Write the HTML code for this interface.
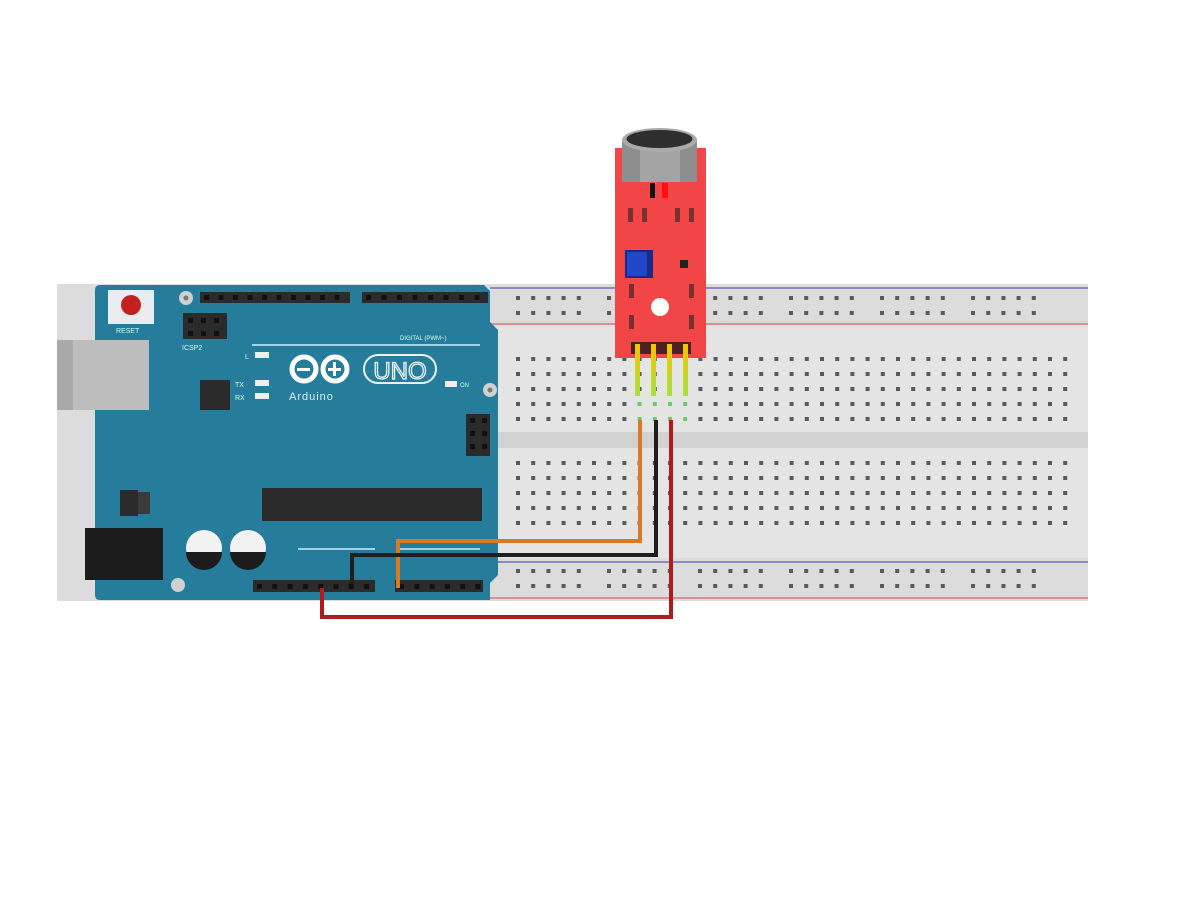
<!DOCTYPE html>
<html><head><meta charset="utf-8"><style>
html,body{margin:0;padding:0;background:#fff;width:1200px;height:900px;overflow:hidden}
svg{display:block}
text{font-family:"Liberation Sans",sans-serif}
</style></head><body>
<svg id="s" width="1200" height="900" viewBox="0 0 1200 900" xmlns="http://www.w3.org/2000/svg">
<!-- breadboard -->
<rect x="57" y="284" width="1031" height="317" fill="#dcdcdc"/>
<rect x="490" y="326" width="598" height="232" fill="#e4e4e4"/>
<rect x="490" y="432" width="598" height="16" fill="#d2d2d2"/>
<line x1="490" y1="288" x2="1088" y2="288" stroke="#8a8ac8" stroke-width="2"/>
<line x1="490" y1="324" x2="1088" y2="324" stroke="#d89090" stroke-width="2"/>
<line x1="490" y1="562" x2="1088" y2="562" stroke="#8a8ac8" stroke-width="2"/>
<line x1="490" y1="598" x2="1088" y2="598" stroke="#d89090" stroke-width="2"/>
<g id="holes" fill="#5a5a5a"></g>
<!-- arduino -->
<path d="M100 285 H484 L490 291 V322 L498 330 V575 L490 583 V600 H100 Q95 600 95 595 V290 Q95 285 100 285Z" fill="#257d9b"/>
<rect x="57" y="340" width="92" height="70" fill="#bdbdbd"/>
<rect x="57" y="340" width="16" height="70" fill="#a9a9a9"/>
<rect x="85" y="528" width="78" height="52" fill="#1c1c1c"/>
<rect x="108" y="290" width="46" height="34" fill="#e8ecef"/>
<circle cx="131" cy="305" r="10" fill="#c42020"/>
<text x="116" y="333" font-size="7" fill="#cfe">RESET</text>
<circle cx="186" cy="298" r="7" fill="#d0d0d0"/><circle cx="186" cy="298" r="2.5" fill="#777"/>
<circle cx="490" cy="390" r="7" fill="#d0d0d0"/><circle cx="490" cy="390" r="2.5" fill="#777"/>
<circle cx="178" cy="585" r="7" fill="#d0d0d0"/>
<rect x="200" y="292" width="150" height="11" fill="#2b2b2b"/>
<rect x="362" y="292" width="126" height="11" fill="#2b2b2b"/>
<rect x="183" y="313" width="44" height="26" fill="#2b2b2b"/>
<text x="182" y="350" font-size="7" fill="#cfe">ICSP2</text>
<text x="400" y="340" font-size="6" fill="#cfe">DIGITAL (PWM~)</text>
<line x1="252" y1="345" x2="480" y2="345" stroke="#9fd4e6" stroke-width="2"/>
<rect x="255" y="352" width="14" height="6" fill="#eee"/>
<rect x="255" y="380" width="14" height="6" fill="#eee"/>
<rect x="255" y="393" width="14" height="6" fill="#eee"/>
<text x="245" y="359" font-size="7" fill="#cfe">L</text>
<text x="235" y="387" font-size="7" fill="#cfe">TX</text>
<text x="235" y="400" font-size="7" fill="#cfe">RX</text>
<rect x="200" y="380" width="30" height="30" fill="#2b2b2b"/>
<g fill="none" stroke="#fff" stroke-width="5"><circle cx="304" cy="369" r="12"/><circle cx="335" cy="369" r="12"/></g>
<rect x="297" y="368" width="13" height="3" fill="#fff"/><rect x="328" y="368" width="13" height="3" fill="#fff"/><rect x="333" y="362" width="3" height="14" fill="#fff"/>
<rect x="364" y="355" width="72" height="28" rx="14" fill="none" stroke="#e8f4f8" stroke-width="2"/>
<text x="400" y="379" font-size="24" fill="#257d9b" stroke="#e8f4f8" stroke-width="1.3" text-anchor="middle">UNO</text>
<text x="289" y="400" font-size="11" fill="#d8eef5" letter-spacing="1">Arduino</text>
<rect x="445" y="381" width="12" height="6" fill="#eee"/><text x="460" y="387" font-size="6" fill="#cfe">ON</text>
<rect x="466" y="414" width="24" height="42" fill="#2b2b2b"/>
<rect x="120" y="490" width="18" height="26" fill="#2b2b2b"/><rect x="138" y="492" width="12" height="22" fill="#3a3a3a"/>
<rect x="262" y="488" width="220" height="33" fill="#2b2b2b"/>
<circle cx="204" cy="548" r="18" fill="#f2f2f2"/><path d="M186 552 A18 18 0 0 0 222 552Z" fill="#1c1c1c"/>
<circle cx="248" cy="548" r="18" fill="#f2f2f2"/><path d="M230 552 A18 18 0 0 0 266 552Z" fill="#1c1c1c"/>
<line x1="298" y1="549" x2="375" y2="549" stroke="#9fd4e6" stroke-width="2"/>
<line x1="398" y1="549" x2="480" y2="549" stroke="#9fd4e6" stroke-width="2"/>
<rect x="253" y="580" width="122" height="12" fill="#2b2b2b"/>
<rect x="395" y="580" width="88" height="12" fill="#2b2b2b"/>
<g id="hpins" fill="#111"></g>
<!-- sensor -->
<rect x="615" y="148" width="91" height="210" fill="#f24545"/>
<rect x="622" y="140" width="75" height="42" fill="#8e8e8e"/>
<rect x="640" y="140" width="40" height="42" fill="#a4a4a4"/>
<ellipse cx="659.5" cy="140" rx="37.5" ry="12" fill="#aaa"/>
<ellipse cx="659.5" cy="139" rx="33" ry="9" fill="#2e2e2e"/>
<rect x="650" y="183" width="5" height="15" fill="#111"/><rect x="662" y="183" width="6" height="15" fill="#ff1010"/>
<g fill="#7a3030"><rect x="628" y="208" width="5" height="14"/><rect x="642" y="208" width="5" height="14"/><rect x="675" y="208" width="5" height="14"/><rect x="689" y="208" width="5" height="14"/>
<rect x="629" y="284" width="5" height="14"/><rect x="689" y="284" width="5" height="14"/><rect x="629" y="315" width="5" height="14"/><rect x="689" y="315" width="5" height="14"/></g>
<rect x="625" y="250" width="28" height="28" fill="#1a2a8a"/><rect x="627" y="252" width="20" height="24" fill="#2048c8"/>
<rect x="680" y="260" width="8" height="8" fill="#222"/>
<circle cx="660" cy="307" r="9" fill="#fff"/>
<rect x="631" y="342" width="60" height="12" fill="#4a2222"/>
<defs><linearGradient id="pg" x1="0" y1="0" x2="0" y2="1"><stop offset="0" stop-color="#f6c400"/><stop offset="1" stop-color="#a8e040"/></linearGradient></defs>
<g fill="url(#pg)"><rect x="635" y="344" width="5" height="52"/><rect x="651" y="344" width="5" height="52"/><rect x="667" y="344" width="5" height="52"/><rect x="683" y="344" width="5" height="52"/></g>
<!-- wires -->
<polyline points="640,420 640,541 398,541 398,588" fill="none" stroke="#d87a26" stroke-width="4"/>
<polyline points="656,420 656,555 352,555 352,584" fill="none" stroke="#1e1e1e" stroke-width="4"/>
<polyline points="671,420 671,617 322,617 322,588" fill="none" stroke="#b01c1c" stroke-width="4"/>
</svg>
<script>
var NS="http://www.w3.org/2000/svg",g=document.getElementById("holes");
function r(x,y,c){var e=document.createElementNS(NS,"rect");e.setAttribute("x",x-2);e.setAttribute("y",y-2);e.setAttribute("width",4);e.setAttribute("height",4);if(c)e.setAttribute("fill",c);g.appendChild(e);}
var rows=[359,374,389,404,419,463,478,493,508,523];
for(var i=0;i<37;i++){var x=518+i*15.2;rows.forEach(function(y){r(x,y,((y==404||y==419)&&(x>630&&x<695))?"#6c6":null)});}
for(var gI=0;gI<6;gI++)for(var k=0;k<5;k++){var x=518+gI*91+k*15.2;[298,313,571,586].forEach(function(y){r(x,y)});}
var h=document.getElementById("hpins");
function p(x,y){var e=document.createElementNS(NS,"rect");e.setAttribute("x",x-2);e.setAttribute("y",y-2);e.setAttribute("width",5);e.setAttribute("height",5);h.appendChild(e);}
for(var i=0;i<10;i++)p(206+i*14.5,297);for(var i=0;i<8;i++)p(368+i*15.5,297);
for(var i=0;i<8;i++)p(259+i*15.3,586);for(var i=0;i<6;i++)p(401+i*15.3,586);
for(var i=0;i<3;i++){p(190+i*13,320);p(190+i*13,333);}
for(var i=0;i<3;i++){p(472,420+i*13);p(484,420+i*13);}
</script>
</body></html>
